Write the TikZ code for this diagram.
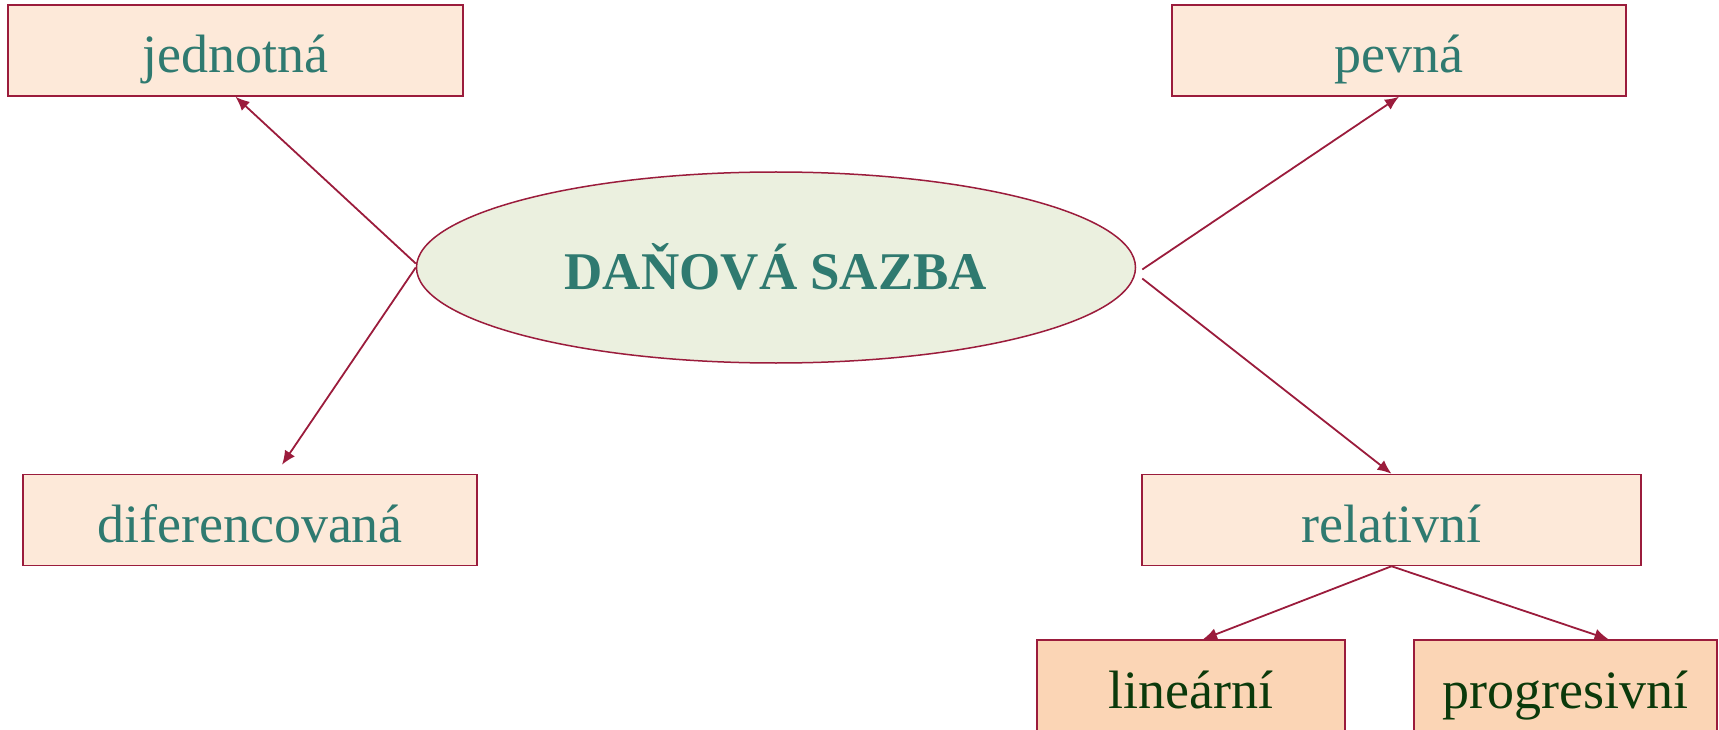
\documentclass[tikz,border=0pt]{standalone}
\usepackage{fontspec}
\setmainfont{Liberation Serif}
\usetikzlibrary{shapes.geometric,arrows.meta,calc}

\definecolor{ramfill}{HTML}{FDE9D9}
\definecolor{ramcara}{HTML}{9B1C3C}
\definecolor{textzel}{HTML}{2F7A70}
\definecolor{podfill}{HTML}{FBD5B5}
\definecolor{podtext}{HTML}{0B3A0B}
\definecolor{elfill}{HTML}{EBF0DF}

\tikzset{
  pojem/.style={rectangle, fill=ramfill, draw=ramcara, line width=1.5pt, inner sep=0pt,
    minimum height=91, text=textzel, text height=54pt, text depth=10pt,
    font=\fontsize{54}{60}\selectfont},
  podpojem/.style={pojem, fill=podfill, text=podtext},
  sipka/.style={draw=ramcara, line width=1.8pt, -{Latex[length=14pt,width=12pt]}}
}

\begin{document}
\begin{tikzpicture}[x=1pt, y=-1pt]
\useasboundingbox (0,0) rectangle (1719,730);

% stred
\node[ellipse, fill=elfill, draw=ramcara, line width=1.5pt, inner sep=0pt,
  minimum width=719, minimum height=191, text=textzel, text height=54pt, text depth=10pt,
  font=\fontsize{53}{60}\selectfont\bfseries] (sazba) at (776,267.5) {DAŇOVÁ SAZBA};

% druhy sazby
\node[pojem, minimum width=455] (jed) at (235.5,50.5) {jednotná};
\node[pojem, minimum width=454] (pev) at (1399,50.5) {pevná};
\node[pojem, minimum width=454] (dif) at (250,520) {diferencovaná};
\node[pojem, minimum width=499] (rel) at (1391.5,520) {relativní};
\node[podpojem, minimum width=308, minimum height=92] (lin) at (1191,686) {lineární};
\node[podpojem, minimum width=303, minimum height=92] (pro) at (1565.5,686) {progresivní};

\coordinate (v1) at ($(sazba.east)+(6,2)$);
\coordinate (v2) at ($(sazba.east)+(6,11)$);

\draw[sipka] ($(sazba.west)+(0,-4)$) -- (jed.south);
\draw[sipka] (sazba.west) -- ($(dif.north)+(32,-9)$);
\draw[sipka] (v1) -- (pev.south);
\draw[sipka] (v2) -- (rel.north);
\draw[sipka] (rel.south) -- ($(lin.north)+(12,0)$);
\draw[sipka] (rel.south) -- ($(pro.north)+(43,0)$);
\end{tikzpicture}
\end{document}
